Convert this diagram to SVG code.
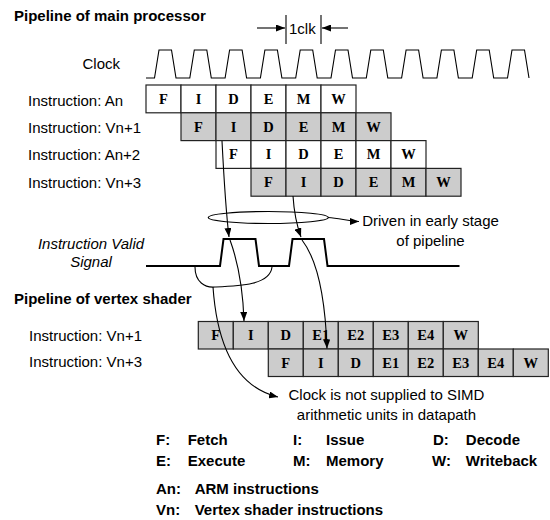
<svg xmlns="http://www.w3.org/2000/svg" width="550" height="520" viewBox="0 0 550 520">
<style>
.t{font-family:"Liberation Sans",Arial,sans-serif;font-size:15px;fill:#000}
.b{font-weight:bold}
.i{font-style:italic}
.m{text-anchor:middle}
.c{font-family:"Liberation Serif","Times New Roman",serif;font-weight:bold;font-size:14.5px;text-anchor:middle;fill:#000}
.w{fill:#fff;stroke:#222;stroke-width:1.2}
.g{fill:#cccccc;stroke:#222;stroke-width:1.2}
.ln{fill:none;stroke:#000;stroke-width:1.1}
.sig{fill:none;stroke:#000;stroke-width:2}
</style>
<defs>
<marker id="ah" viewBox="0 0 9 7" refX="9" refY="3.5" markerWidth="9" markerHeight="7" markerUnits="userSpaceOnUse" orient="auto" preserveAspectRatio="none"><path d="M0 0L9 3.5L0 7Z" fill="#000"/></marker>
</defs>
<rect width="550" height="520" fill="#fff"/>

<g id="titles">
<text class="t b" x="14" y="20.5">Pipeline of main processor</text>
<text class="t b" x="14" y="303.5">Pipeline of vertex shader</text>
</g>

<g id="oneclk">
<line class="ln" x1="286" y1="15" x2="286" y2="44"/>
<line class="ln" x1="321" y1="15" x2="321" y2="44"/>
<text class="t" x="289" y="34">1clk</text>
</g>

<g id="clock">
<text class="t" x="82.5" y="69">Clock</text>
<path class="ln" d="M146 78H154.5L159 50H171.5L176 78H189.8L194.3 50H206.8L211.3 78H225.1L229.6 50H242.1L246.6 78H260.4L264.9 50H277.4L281.9 78H295.7L300.2 50H312.7L317.2 78H331L335.5 50H348L352.5 78H366.3L370.8 50H383.3L387.8 78H401.6L406.1 50H418.6L423.1 78H436.9L441.4 50H453.9L458.4 78H472.2L476.7 50H489.2L493.7 78H507.5L512 50H524.5L529 78"/>
</g>

<g id="main-An">
<text class="t" x="28" y="105.5">Instruction: An</text>
<rect class="w" x="146" y="85" width="35" height="27.8"/><rect class="w" x="181" y="85" width="35" height="27.8"/><rect class="w" x="216" y="85" width="35" height="27.8"/><rect class="w" x="251" y="85" width="35" height="27.8"/><rect class="w" x="286" y="85" width="35" height="27.8"/><rect class="w" x="321" y="85" width="35" height="27.8"/>
<text class="c" x="163.5" y="103.8">F</text><text class="c" x="198.5" y="103.8">I</text><text class="c" x="233.5" y="103.8">D</text><text class="c" x="268.5" y="103.8">E</text><text class="c" x="303.5" y="103.8">M</text><text class="c" x="338.5" y="103.8">W</text>
</g>

<g id="main-Vn1">
<text class="t" x="28" y="132.5">Instruction: Vn+1</text>
<rect class="g" x="181" y="112.8" width="35" height="27.8"/><rect class="g" x="216" y="112.8" width="35" height="27.8"/><rect class="g" x="251" y="112.8" width="35" height="27.8"/><rect class="g" x="286" y="112.8" width="35" height="27.8"/><rect class="g" x="321" y="112.8" width="35" height="27.8"/><rect class="g" x="356" y="112.8" width="35" height="27.8"/>
<text class="c" x="198.5" y="131.6">F</text><text class="c" x="233.5" y="131.6">I</text><text class="c" x="268.5" y="131.6">D</text><text class="c" x="303.5" y="131.6">E</text><text class="c" x="338.5" y="131.6">M</text><text class="c" x="373.5" y="131.6">W</text>
</g>

<g id="main-An2">
<text class="t" x="28" y="160">Instruction: An+2</text>
<rect class="w" x="216" y="140.6" width="35" height="27.8"/><rect class="w" x="251" y="140.6" width="35" height="27.8"/><rect class="w" x="286" y="140.6" width="35" height="27.8"/><rect class="w" x="321" y="140.6" width="35" height="27.8"/><rect class="w" x="356" y="140.6" width="35" height="27.8"/><rect class="w" x="391" y="140.6" width="35" height="27.8"/>
<text class="c" x="233.5" y="159.4">F</text><text class="c" x="268.5" y="159.4">I</text><text class="c" x="303.5" y="159.4">D</text><text class="c" x="338.5" y="159.4">E</text><text class="c" x="373.5" y="159.4">M</text><text class="c" x="408.5" y="159.4">W</text>
</g>

<g id="main-Vn3">
<text class="t" x="28" y="188">Instruction: Vn+3</text>
<rect class="g" x="251" y="168.4" width="35" height="27.8"/><rect class="g" x="286" y="168.4" width="35" height="27.8"/><rect class="g" x="321" y="168.4" width="35" height="27.8"/><rect class="g" x="356" y="168.4" width="35" height="27.8"/><rect class="g" x="391" y="168.4" width="35" height="27.8"/><rect class="g" x="426" y="168.4" width="35" height="27.8"/>
<text class="c" x="268.5" y="187.2">F</text><text class="c" x="303.5" y="187.2">I</text><text class="c" x="338.5" y="187.2">D</text><text class="c" x="373.5" y="187.2">E</text><text class="c" x="408.5" y="187.2">M</text><text class="c" x="443.5" y="187.2">W</text>
</g>

<g id="valid-signal">
<text class="t i m" x="91" y="248.7">Instruction Valid</text>
<text class="t i m" x="91" y="267">Signal</text>
<path class="sig" d="M146 266H220L223.5 239H255.5L259 266H289L292.5 239H324L327.5 266H459.5"/>
</g>

<g id="early-ellipse">
<ellipse cx="268.3" cy="217.5" rx="60" ry="6" fill="none" stroke="#000" stroke-width="1.2"/>
</g>

<g id="driven-note">
<text class="t m" x="430.5" y="226">Driven in early stage</text>
<text class="t m" x="430.5" y="245.5">of pipeline</text>
</g>

<g id="vertex-Vn1">
<text class="t" x="29" y="341">Instruction: Vn+1</text>
<rect class="g" x="198.3" y="321.5" width="35" height="27.5"/><rect class="g" x="233.3" y="321.5" width="35" height="27.5"/><rect class="g" x="268.3" y="321.5" width="35" height="27.5"/><rect class="g" x="303.3" y="321.5" width="35" height="27.5"/><rect class="g" x="338.3" y="321.5" width="35" height="27.5"/><rect class="g" x="373.3" y="321.5" width="35" height="27.5"/><rect class="g" x="408.3" y="321.5" width="35" height="27.5"/><rect class="g" x="443.3" y="321.5" width="35" height="27.5"/>
<text class="c" x="215.8" y="340.2">F</text><text class="c" x="250.8" y="340.2">I</text><text class="c" x="285.8" y="340.2">D</text><text class="c" x="320.8" y="340.2">E1</text><text class="c" x="355.8" y="340.2">E2</text><text class="c" x="390.8" y="340.2">E3</text><text class="c" x="425.8" y="340.2">E4</text><text class="c" x="460.8" y="340.2">W</text>
</g>

<g id="vertex-Vn3">
<text class="t" x="29" y="367">Instruction: Vn+3</text>
<rect class="g" x="268.3" y="349" width="35" height="27.5"/><rect class="g" x="303.3" y="349" width="35" height="27.5"/><rect class="g" x="338.3" y="349" width="35" height="27.5"/><rect class="g" x="373.3" y="349" width="35" height="27.5"/><rect class="g" x="408.3" y="349" width="35" height="27.5"/><rect class="g" x="443.3" y="349" width="35" height="27.5"/><rect class="g" x="478.3" y="349" width="35" height="27.5"/><rect class="g" x="513.3" y="349" width="35" height="27.5"/>
<text class="c" x="285.8" y="367.7">F</text><text class="c" x="320.8" y="367.7">I</text><text class="c" x="355.8" y="367.7">D</text><text class="c" x="390.8" y="367.7">E1</text><text class="c" x="425.8" y="367.7">E2</text><text class="c" x="460.8" y="367.7">E3</text><text class="c" x="495.8" y="367.7">E4</text><text class="c" x="530.8" y="367.7">W</text>
</g>

<g id="clock-note">
<text class="t m" x="386.5" y="400">Clock is not supplied to SIMD</text>
<text class="t m" x="386.5" y="420">arithmetic units in datapath</text>
</g>

<g id="legend">
<text class="t b" x="156" y="445.4">F:</text><text class="t b" x="187.7" y="445.4">Fetch</text>
<text class="t b" x="293" y="445.4">I:</text><text class="t b" x="326" y="445.4">Issue</text>
<text class="t b" x="433" y="445.4">D:</text><text class="t b" x="465.8" y="445.4">Decode</text>
<text class="t b" x="156" y="466">E:</text><text class="t b" x="187.7" y="466">Execute</text>
<text class="t b" x="293" y="466">M:</text><text class="t b" x="326" y="466">Memory</text>
<text class="t b" x="432" y="466">W:</text><text class="t b" x="465.8" y="466">Writeback</text>
<text class="t b" x="156" y="494.4">An:</text><text class="t b" x="194.7" y="494.4">ARM instructions</text>
<text class="t b" x="156" y="514.7">Vn:</text><text class="t b" x="194.7" y="514.7">Vertex shader instructions</text>
</g>

<g id="connectors" fill="none" stroke="#000" stroke-width="1.1">
<path d="M257 28H285" marker-end="url(#ah)"/>
<path d="M348 28H322" marker-end="url(#ah)"/>
<path d="M222 141C224 180 226 212 229 237" marker-end="url(#ah)"/>
<path d="M293 196C294 212 297 226 301 237" marker-end="url(#ah)"/>
<path d="M328 217.5C340 218 348 221.5 359 221.5" marker-end="url(#ah)"/>
<path d="M230 240C238 262 243 290 244 321" marker-end="url(#ah)"/>
<path d="M302 240C316 258 325 292 327 348.5" marker-end="url(#ah)"/>
<path d="M195 267C195 282 205 288 215 287C240 286 270 285 272 267"/>
<path d="M213 287C216 330 228 385 278 397" marker-end="url(#ah)"/>
</g>
</svg>
